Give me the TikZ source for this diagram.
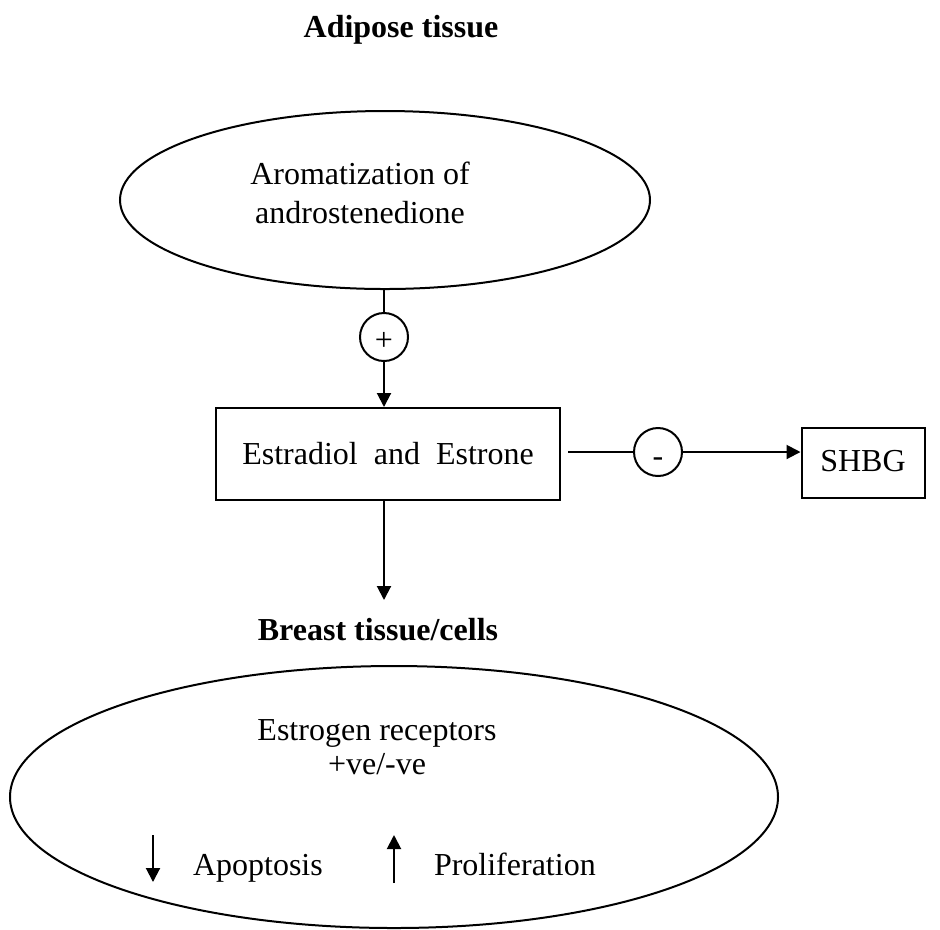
\documentclass[tikz,border=0pt]{standalone}
\usepackage{fontspec}
\setmainfont{Liberation Serif}
\usetikzlibrary{shapes,arrows.meta,positioning,calc}

\begin{document}
\begin{tikzpicture}[x=0.4pt, y=-0.4pt, font=\fontsize{12.8}{15.8}\selectfont, line width=0.8pt]
    % Define styles
    \tikzstyle{title} = [font=\fontsize{12.8}{15.8}\selectfont\bfseries]
    \tikzstyle{oval} = [ellipse, draw=black, inner sep=0pt]
    \tikzstyle{process} = [rectangle, draw=black, text centered, inner sep=0pt]
    \tikzstyle{sign} = [circle, draw=black, minimum size=19.2pt, inner sep=0pt]
    \tikzstyle{effect} = [anchor=base west, inner sep=0pt]
    \tikzstyle{arrow} = [-{Triangle[length=5.6pt,width=5.6pt]}]
    \useasboundingbox (0,0) rectangle (940,929);

    % Nodes
    \node [title] (adipose) at (401,30) {Adipose tissue};
    \node [oval, minimum width=212pt, minimum height=71.2pt] (arom) at (385,200) {};
    \node [align=center] (aromtext) at (360,193) {Aromatization of\\androstenedione};
    \node [sign] (plus) at (384,337) {\raisebox{-5.2pt}[0pt][0pt]{+}};
    \node [process, minimum width=137.2pt, minimum height=36.8pt] (estr) at (388,454) {Estradiol\ \ and\ \ Estrone};
    \node [sign] (minus) at (658,452) {\raisebox{-5.6pt}[0pt][0pt]{-}};
    \node [process, minimum width=49.2pt, minimum height=28pt] (shbg) at (863,463) {\raisebox{2pt}{SHBG}};
    \coordinate (breastin) at (384,600);
    \node [title] (breast) at (378,630) {Breast tissue/cells};
    \node [oval, minimum width=307.2pt, minimum height=104.8pt] (cells) at (394,797) {};
    \node [align=center] (er) at (377,747) {Estrogen receptors\\[-2pt]+ve/-ve};
    \node [effect] (apop) at (192,875) {Apoptosis};
    \node [effect] (prol) at (433,875) {Proliferation};
    \coordinate (apoptop) at (153,835);
    \coordinate (apopbot) at (153,882);
    \coordinate (proltop) at (394,835);
    \coordinate (prolbot) at (394,883);

    % Arrows
    \draw (arom.south -| plus) -- (plus);
    \draw [arrow] (plus) -- (plus |- estr.north);
    \draw [arrow] (plus |- estr.south) -- (breastin);
    \draw ([xshift=3pt]estr.east |- minus) -- (minus);
    \draw [arrow] (minus) -- (minus -| shbg.west);
    \draw [arrow] (apoptop) -- (apopbot);
    \draw [arrow] (prolbot) -- (proltop);
\end{tikzpicture}
\end{document}
